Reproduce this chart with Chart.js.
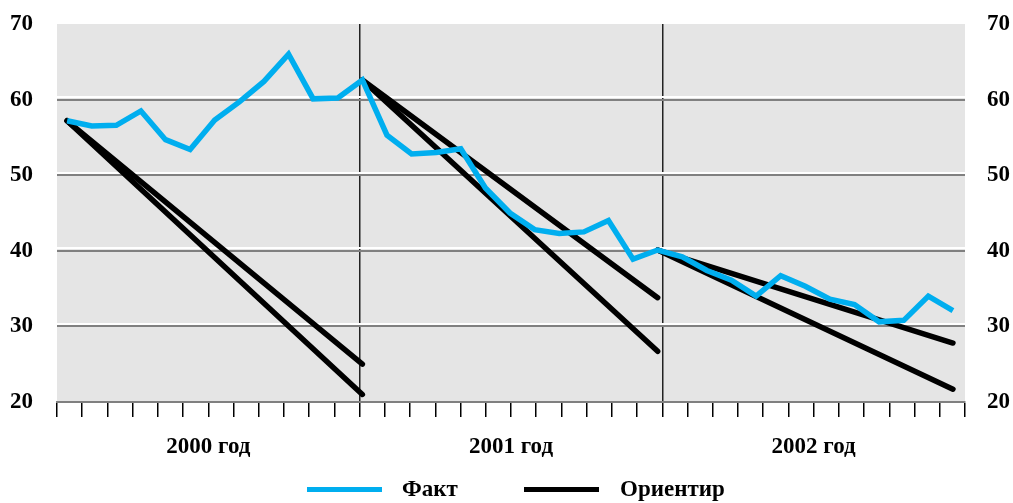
<!DOCTYPE html>
<html>
<head>
  <meta charset="UTF-8">
  <title>Факт и ориентир</title>
  <script src="https://cdn.jsdelivr.net/npm/chart.js"></script>
  <style>
  body {
    margin: 0;
    background: #ffffff;
    font-family: 'Liberation Serif', serif;
  }

  .wrap {
    position: relative;
    width: 1013px;
    height: 503px;
  }

  .legend-line {
    position: absolute;
    width: 75px;
    height: 5px;
    top: 487px;
  }

  .legend-text {
    position: absolute;
    top: 476px;
    font: bold 23px 'Liberation Serif', serif;
    line-height: 26px;
    color: #000;
  }
</style>
</head>
<body>

  <div class="wrap">
    <canvas id="chart"></canvas>
    <div class="legend-line" style="left:307px;background:#00aeef"></div>
    <div class="legend-text" style="left:402px">Факт</div>
    <div class="legend-line" style="left:524px;background:#000"></div>
    <div class="legend-text" style="left:620px">Ориентир</div>
  </div>

  <script>
    // месяцы 2000-2002, точка 0 = начало 2000 года
    const yearLabels = ["2000 год", "2001 год", "2002 год"];
    const yAxisTicks = [20, 30, 40, 50, 60, 70];

    const fact = [
      57.2, 56.5, 56.6, 58.5, 54.7, 53.4, 57.3, 59.7, 62.4, 66.0, 60.1, 60.2, 62.6,
      55.3, 52.8, 53.0, 53.5, 48.3, 45.0, 42.8, 42.3, 42.5, 44.0, 38.9, 40.1,
      39.2, 37.4, 36.1, 34.0, 36.7, 35.3, 33.6, 32.9, 30.6, 30.8, 34.0, 32.1
    ];

    // ориентиры: отрезки внутри каждого года, null = разрыв
    const orientX     = [0,    12,   12,   12,   24,   24,   24,   36];
    const orientUpper = [57.2, 25.0, null, 62.6, 33.8, null, 40.1, 27.8];
    const orientLower = [57.2, 21.0, null, 62.6, 26.7, null, 40.1, 21.7];

    const toPoints = (xs, ys) => xs.map((x, i) => ({ x: x, y: ys[i] }));

    const bgPlugin = {
      id: "plotBg",
      beforeDraw(chart) {
        const a = chart.chartArea;
        const ctx = chart.ctx;
        ctx.save();
        ctx.fillStyle = "#e5e5e5";
        ctx.fillRect(a.left, a.top, a.right - a.left, a.bottom - a.top);
        ctx.restore();
      }
    };

    const labelFont = { family: "'Liberation Serif', serif", size: 23, weight: "bold" };
    const inner = v => v > 20 && v < 70;
    // fixed axis width, no extra top/bottom padding from labels
    const fixWidth = w => s => { s.width = w; s.paddingTop = 0; s.paddingBottom = 0; };

    new Chart(document.getElementById("chart"), {
      type: "line",
      data: {
        datasets: [
          {
            label: "Факт",
            data: fact.map((v, i) => ({ x: i, y: v })),
            borderColor: "#00aeef",
            borderWidth: 5.5,
            pointRadius: 0,
            tension: 0,
            borderJoinStyle: "miter"
          },
          {
            label: "Ориентир",
            data: toPoints(orientX, orientUpper),
            borderColor: "#000",
            borderWidth: 5.5,
            pointRadius: 0,
            borderCapStyle: "round",
            spanGaps: false
          },
          {
            label: "Ориентир",
            data: toPoints(orientX, orientLower),
            borderColor: "#000",
            borderWidth: 5.5,
            pointRadius: 0,
            borderCapStyle: "round",
            spanGaps: false
          }
        ]
      },
      options: {
        responsive: true,
        maintainAspectRatio: false,
        animation: false,
        layout: { padding: { top: 24, bottom: 41, left: 0, right: 0 } },
        plugins: {
          legend: { display: false },
          tooltip: { enabled: false }
        },
        scales: {
          x: {
            type: "linear",
            min: -0.41,
            max: 36.49,
            display: false
          },
          months: {
            type: "linear",
            axis: "x",
            position: "bottom",
            min: 0,
            max: 36,
            afterFit: s => { s.height = 60; s.paddingLeft = 0; s.paddingRight = 0; },
            border: { display: true, color: "#808080", width: 2 },
            grid: {
              drawOnChartArea: true,
              color: c => (c.tick && (c.tick.value === 12 || c.tick.value === 24)) ? "#222" : "rgba(0,0,0,0)",
              lineWidth: 1.5,
              tickColor: "#000",
              tickWidth: 1.5,
              tickLength: 15
            },
            ticks: {
              stepSize: 1,
              autoSkip: false,
              maxRotation: 0,
              padding: 16,
              color: "#000",
              font: labelFont,
              callback: v => (v % 12 === 6 ? yearLabels[(v - 6) / 12] : "")
            }
          },
          y: {
            position: "left",
            min: 20,
            max: 70,
            afterFit: fixWidth(57),
            afterBuildTicks: s => { s.ticks = yAxisTicks.map(v => ({ value: v })); },
            border: { display: false },
            grid: {
              color: c => inner(c.tick.value) ? "#808080" : "rgba(0,0,0,0)",
              lineWidth: 2,
              drawTicks: false
            },
            ticks: { padding: 24, color: "#000", font: labelFont }
          },
          yWhite: {
            position: "left",
            min: 19.67,
            max: 69.67,
            afterFit: fixWidth(0),
            afterBuildTicks: s => { s.ticks = yAxisTicks.map(v => ({ value: v })); },
            border: { display: false },
            grid: {
              color: c => inner(c.tick.value) ? "#ffffff" : "rgba(0,0,0,0)",
              lineWidth: 2,
              drawTicks: false
            },
            ticks: { display: false }
          },
          yRight: {
            position: "right",
            min: 20,
            max: 70,
            afterFit: fixWidth(48),
            afterBuildTicks: s => { s.ticks = yAxisTicks.map(v => ({ value: v })); },
            border: { display: false },
            grid: { drawOnChartArea: false, drawTicks: false },
            ticks: { padding: 22, color: "#000", font: labelFont }
          }
        }
      },
      plugins: [bgPlugin]
    });
  </script>

</body>
</html>
